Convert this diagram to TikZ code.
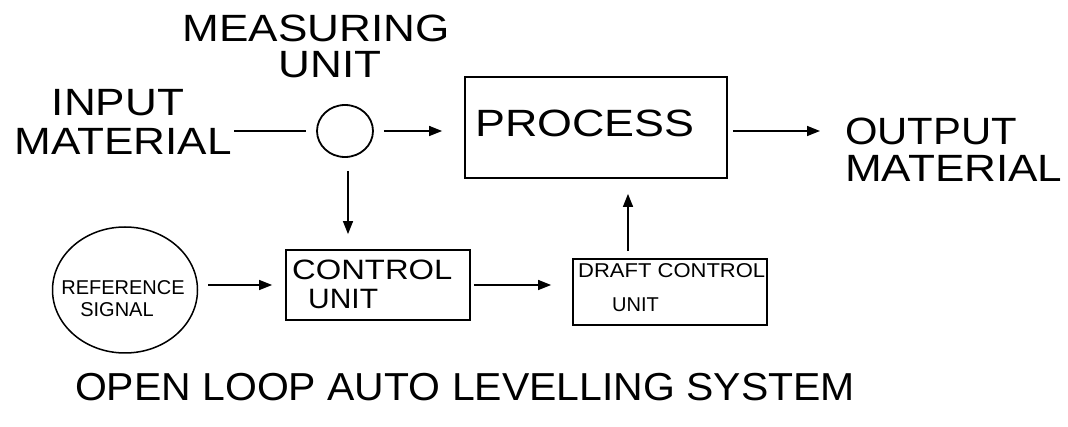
\documentclass[tikz,border=0pt]{standalone}
\usepackage{fontspec}
\setmainfont{Liberation Sans}
\usetikzlibrary{arrows.meta,shapes.geometric}
\newcommand\hs[2]{\scalebox{#1}[1]{#2}}
\begin{document}
\begin{tikzpicture}[x=1pt,y=-1pt,
  box/.style={draw, line width=1.8pt, inner sep=0pt},
  conn/.style={line width=1.5pt},
  arr/.style={line width=1.5pt, -{Triangle[length=13pt,width=10pt]}},
  big/.style={font=\fontsize{38}{40}\selectfont, inner sep=0pt},
  mid/.style={font=\fontsize{28}{30}\selectfont, inner sep=0pt},
  small/.style={font=\fontsize{20}{22}\selectfont, inner sep=0pt},
  ttl/.style={font=\fontsize{39}{41}\selectfont, inner sep=0pt}]
\useasboundingbox (0,0) rectangle (1068,427);
% shapes
\node[box, minimum width=262pt, minimum height=101pt] (proc) at (596,127.5) {};
\node[box, minimum width=184pt, minimum height=70pt] (ctl) at (378,285) {};
\node[box, minimum width=194pt, minimum height=66pt] (draft) at (670,292) {};
\node[draw, ellipse, line width=1.8pt, minimum width=56pt, minimum height=52pt, inner sep=0pt] (mu) at (345,131) {};
\node[draw, ellipse, line width=1.5pt, minimum width=145pt, minimum height=126pt, inner sep=0pt] (ref) at (125,290) {};
% texts
\node[big, anchor=base] (t1) at (316,42) {\hs{1.16}{MEASURING}};
\node[big, anchor=base] (t2) at (330,78) {\hs{1.16}{UNIT}};
\node[big, anchor=base] (t3) at (118,116) {\hs{1.16}{INPUT}};
\node[big, anchor=base] (t4) at (123,155) {\hs{1.16}{MATERIAL}};
\node[big, anchor=base west] (t5) at (475,137) {\hs{1.18}{PROCESS}};
\node[big, anchor=base west] (t6) at (845,145) {\hs{1.1}{OUTPUT}};
\node[big, anchor=base west] (t7) at (845,182) {\hs{1.16}{MATERIAL}};
\node[mid, anchor=base west] (t8) at (292,280) {\hs{1.17}{CONTROL}};
\node[mid, anchor=base west] (t9) at (308,309) {\hs{1.07}{UNIT}};
\node[small, anchor=base west] (t10) at (578,278) {\hs{1.1}{DRAFT CONTROL}};
\node[small, anchor=base west] (t11) at (612,312) {\hs{1.0}{UNIT}};
\node[small, anchor=base] (t12) at (123,295) {\hs{1.0}{REFERENCE}};
\node[small, anchor=base] (t13) at (117,317) {\hs{1.0}{SIGNAL}};
\node[ttl, anchor=base] (t14) at (465,400) {\hs{1.05}{OPEN LOOP AUTO LEVELLING SYSTEM}};
% connectors
\coordinate (inp) at (234,131);
\coordinate (outp) at (845,131);
\draw[conn, shorten >=10pt] (inp) -- (mu.west);
\draw[arr, shorten <=10pt, shorten >=22pt] (mu.east) -- (mu.east -| proc.west);
\draw[arr, shorten <=5pt, shorten >=25pt] (proc.east |- outp) -- (outp);
\draw[arr, shorten <=13pt, shorten >=15pt] ([xshift=3pt]mu.south) -- ([xshift=3pt]mu.south |- ctl.north);
\draw[arr, shorten <=10pt, shorten >=13pt] (ref.east |- ctl.west) -- (ctl.west);
\draw[arr, shorten <=3pt, shorten >=21pt] (ctl.east) -- (ctl.east -| draft.west);
\draw[arr, shorten <=7pt, shorten >=15pt] ([xshift=-42pt]draft.north) -- ([xshift=-42pt]draft.north |- proc.south);
\end{tikzpicture}
\end{document}
